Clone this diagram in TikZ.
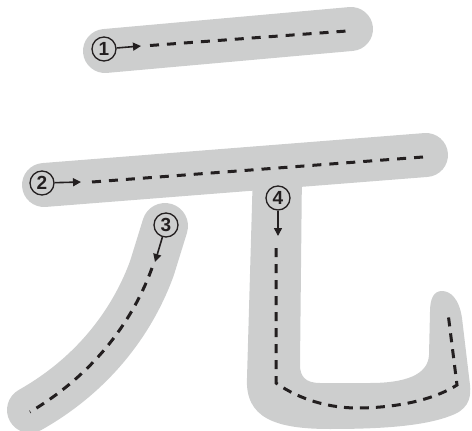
\documentclass[tikz,border=0pt]{standalone}
\usepackage{fontspec}
\setsansfont{Liberation Sans}
\usetikzlibrary{arrows.meta}
\definecolor{bandgray}{RGB}{205,206,206}
\definecolor{ink}{RGB}{35,31,32}
\begin{document}
\begin{tikzpicture}[x=1pt,y=-1pt,
  band/.style={draw=bandgray,line width=44pt,line cap=round,line join=round},
  guide/.style={draw=ink,line width=3pt,dash pattern=on 9pt off 8pt},
  guideb/.style={draw=ink,line width=3pt,dash pattern=on 9pt off 7pt},
  num/.style={circle,draw=ink,line width=1.3pt,minimum size=24pt,inner sep=0pt,
    font=\fontsize{19}{19}\selectfont\sffamily\bfseries,text=ink},
  arr/.style={draw=ink,line width=1.6pt,-{Triangle[length=8pt,width=8pt]}}]
\useasboundingbox (0,0) rectangle (472,431);
% stroke bands
\coordinate (b1s) at (105,51);
\coordinate (b1e) at (351,29);
\draw[band] (b1s) -- (b1e);
\coordinate (b2s) at (44,185);
\coordinate (b2e) at (426,155);
\draw[band] (b2s) -- (b2e);
\coordinate (b3s) at (165,226);
\coordinate (b3m) at (152,268);
\coordinate (b3e) at (30,410);
\draw[band,line width=46pt] (b3s) -- (b3m) .. controls (135,315) and (98.8,371.2) .. (b3e);
\fill[bandgray] (253,170) -- (247,378) .. controls (245,418) and (275,429) .. (330,429)
  .. controls (390,429) and (430,425) .. (455,414) .. controls (470,407) and (471,395) .. (470,385)
  -- (462,318) .. controls (459,298) and (450,291) .. (442,291) .. controls (434,291) and (430,298) .. (430,312)
  -- (429,355) .. controls (428,375) and (405,383) .. (370,383) -- (320,383)
  .. controls (305,383) and (300,376) .. (300,365) -- (302,170) -- cycle;
% numbers and arrows
\node[num] (c1) at (104,49) {1};
\coordinate (a1) at (141,46);
\draw[arr] (c1) -- (a1);
\node[num] (c2) at (42,183) {2};
\coordinate (a2) at (81,182);
\draw[arr] (c2) -- (a2);
\node[num] (c3) at (166,225) {3};
\coordinate (a3) at (155,262);
\draw[arr] (c3) -- (a3);
\node[num] (c4) at (278,198) {4};
\coordinate (a4) at (278,236);
\draw[arr] (c4) -- (a4);
% dashed guides
\coordinate (d1s) at (150,45.5);
\coordinate (d1e) at (347,31);
\draw[guide] (d1s) -- (d1e);
\coordinate (d2s) at (92,182);
\coordinate (d2e) at (423,157);
\draw[guide] (d2s) -- (d2e);
\coordinate (d3s) at (152,268);
\coordinate (d3e) at (30,412);
\draw[guideb] (d3s) .. controls (135,315) and (98.8,371.2) .. (d3e);
\coordinate (d4s) at (276,248);
\coordinate (d4c) at (276,383);
\coordinate (d4b) at (357,408);
\coordinate (d4r) at (457,385);
\coordinate (d4e) at (448,313);
\draw[guideb] (d4s) -- (d4c) .. controls (300,400) and (330,408) .. (d4b)
  .. controls (390,408) and (430,402) .. (d4r) -- (d4e);
\end{tikzpicture}
\end{document}
